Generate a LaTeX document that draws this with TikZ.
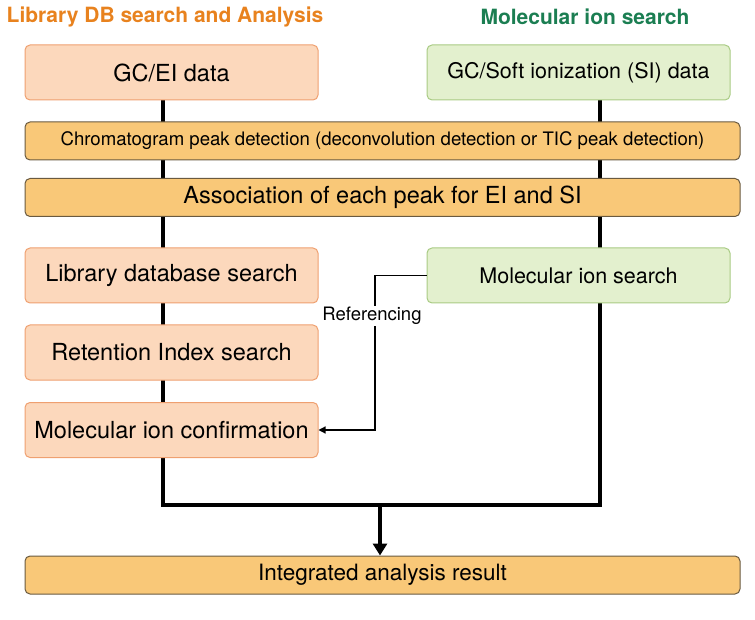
\documentclass[tikz,border=0pt]{standalone}
\usepackage{fontspec}
\setmainfont{TeX Gyre Heros}
\usetikzlibrary{backgrounds,arrows.meta}
\definecolor{peach}{HTML}{FCD8BC}
\definecolor{peachline}{HTML}{EFA070}
\definecolor{barfill}{HTML}{F9C878}
\definecolor{barline}{HTML}{6A5A40}
\definecolor{leaf}{HTML}{E3F0CE}
\definecolor{leafline}{HTML}{A9CB84}
\definecolor{titleor}{HTML}{E8821E}
\definecolor{titlegr}{HTML}{1B7E52}
\tikzset{
  box/.style={draw=#1,line width=1pt,rounded corners=5pt,minimum height=55pt,inner sep=0pt,font=\fontsize{23.5}{26}\selectfont},
  eibox/.style={box=peachline,fill=peach,minimum width=293pt},
  sibox/.style={box=leafline,fill=leaf,minimum width=303pt,font=\fontsize{21.5}{24}\selectfont},
  bar/.style={box=barline,fill=barfill,minimum width=715pt,minimum height=38pt},
  flow/.style={line width=3.5pt,line cap=round},
}
\begin{document}
\begin{tikzpicture}[x=1pt,y=-1pt]
  \useasboundingbox (0,0) rectangle (755,620);
  \node[font=\bfseries\fontsize{21}{24}\selectfont,text=titleor] (t1) at (165,17) {Library DB search and Analysis};
  \node[font=\bfseries\fontsize{21}{24}\selectfont,text=titlegr] (t2) at (585,17) {Molecular ion search};

  \node[eibox] (ei) at (171.5,72.5) {GC/EI data};
  \node[sibox] (si) at (578.5,72.5) {GC/Soft ionization (SI) data};
  \node[bar,font=\fontsize{18.6}{21}\selectfont] (chrom) at (382.5,141) {Chromatogram peak detection (deconvolution detection or TIC peak detection)};
  \node[bar,font=\fontsize{23.5}{26}\selectfont] (assoc) at (382.5,197.5) {Association of each peak for EI and SI};
  \node[eibox] (lib) at (171.5,275.5) {Library database search};
  \node[sibox] (mis) at (578.5,275.5) {Molecular ion search};
  \node[eibox] (ri) at (171.5,352.5) {Retention Index search};
  \node[eibox] (mic) at (171.5,430) {Molecular ion confirmation};
  \node[bar,font=\fontsize{22.5}{25}\selectfont] (res) at (382.5,575) {Integrated analysis result};

  \coordinate (jl) at (163,505);
  \coordinate (jr) at (600,505);
  \coordinate (jm) at (380,505);
  \coordinate (rc) at (375,275.5);

  \begin{pgfonlayer}{background}
    \draw[flow] (ei.south -| jl) -- (jl) -- (jr) -- (si.south -| jr);
  \end{pgfonlayer}
  \draw[flow,-{Triangle[length=12pt,width=14pt]},line cap=butt] (jm) -- (res.north -| jm);
  \draw[line width=1.2pt,-{Triangle[length=7pt,width=7pt]}] (mis.west) -- (rc) -- (rc |- mic.east) -- (mic.east);
  \node[font=\fontsize{18.5}{21}\selectfont,fill=white,inner sep=1pt] (refl) at (372,316) {Referencing};
\end{tikzpicture}
\end{document}
